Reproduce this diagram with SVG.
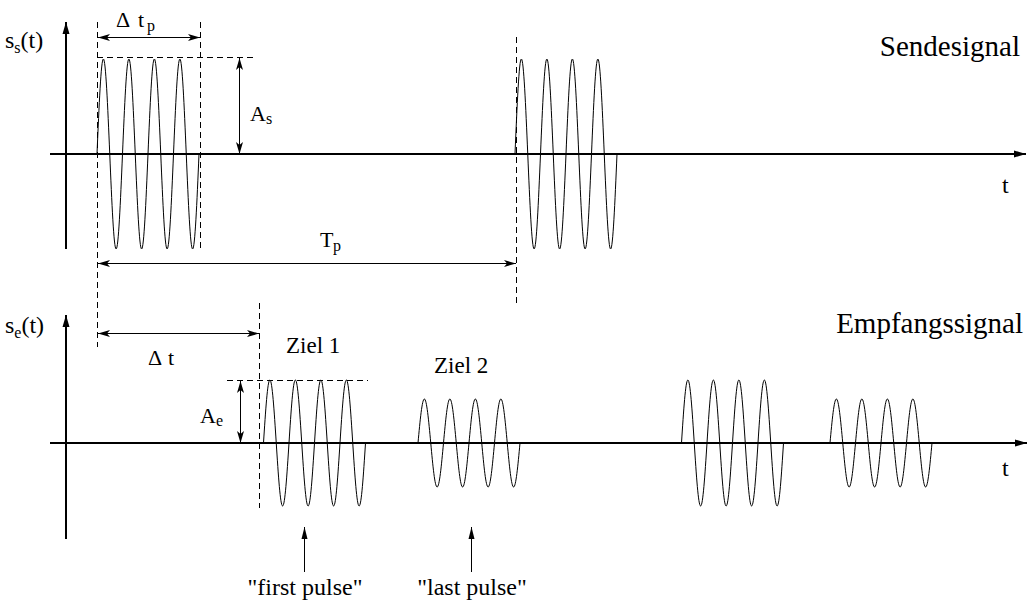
<svg xmlns="http://www.w3.org/2000/svg" xmlns:xlink="http://www.w3.org/1999/xlink" width="1029" height="608" viewBox="0 0 1029 608">
<style>
text{font-family:'Liberation Serif','Times New Roman',Times,'DejaVu Serif',serif;fill:#000}
.axis{stroke:#000;stroke-width:2;fill:none}
.wave{stroke:#000;stroke-width:1;fill:none}
.dash{stroke:#000;stroke-width:1;stroke-dasharray:6,4;fill:none}
.dim{stroke:#000;stroke-width:1;fill:none}
</style>
<defs>
<marker id="ax" markerUnits="userSpaceOnUse" markerWidth="14" markerHeight="10" refX="12" refY="5" orient="auto"><path d="M0,1.5 L12,5 L0,8.5 z" fill="#000"/></marker>
<marker id="dh" markerUnits="userSpaceOnUse" markerWidth="14" markerHeight="10" refX="12" refY="5" orient="auto-start-reverse"><path d="M0,1.5 L12,5 L0,8.5 L3,5 z" fill="#000"/></marker>
<marker id="ph" markerUnits="userSpaceOnUse" markerWidth="14" markerHeight="10" refX="12" refY="5" orient="auto"><path d="M0,2 L12,5 L0,8 z" fill="#000"/></marker>
<path id="p95" class="wave" d="M0,0 c2.079,-48.67 4.068,-95 6.375,-95 s4.296,46.33 6.375,95 s4.068,95 6.375,95 s4.296,-46.33 6.375,-95 s4.068,-95 6.375,-95 s4.296,46.33 6.375,95 s4.068,95 6.375,95 s4.296,-46.33 6.375,-95 s4.068,-95 6.375,-95 s4.296,46.33 6.375,95 s4.068,95 6.375,95 s4.296,-46.33 6.375,-95 s4.068,-95 6.375,-95 s4.296,46.33 6.375,95 s4.068,95 6.375,95 s4.296,-46.33 6.375,-95"/>
<path id="p63" class="wave" d="M0,0 c2.079,-32.27 4.068,-63 6.375,-63 s4.296,30.73 6.375,63 s4.068,63 6.375,63 s4.296,-30.73 6.375,-63 s4.068,-63 6.375,-63 s4.296,30.73 6.375,63 s4.068,63 6.375,63 s4.296,-30.73 6.375,-63 s4.068,-63 6.375,-63 s4.296,30.73 6.375,63 s4.068,63 6.375,63 s4.296,-30.73 6.375,-63 s4.068,-63 6.375,-63 s4.296,30.73 6.375,63 s4.068,63 6.375,63 s4.296,-30.73 6.375,-63"/>
<path id="p44" class="wave" d="M0,0 c2.079,-22.54 4.068,-44 6.375,-44 s4.296,21.46 6.375,44 s4.068,44 6.375,44 s4.296,-21.46 6.375,-44 s4.068,-44 6.375,-44 s4.296,21.46 6.375,44 s4.068,44 6.375,44 s4.296,-21.46 6.375,-44 s4.068,-44 6.375,-44 s4.296,21.46 6.375,44 s4.068,44 6.375,44 s4.296,-21.46 6.375,-44 s4.068,-44 6.375,-44 s4.296,21.46 6.375,44 s4.068,44 6.375,44 s4.296,-21.46 6.375,-44"/>
</defs>
<rect width="1029" height="608" fill="#fff"/>

<g id="sendesignal-axes">
<line class="axis" x1="66" y1="249" x2="66" y2="22" marker-end="url(#ax)"/>
<line class="axis" x1="50" y1="154" x2="1026" y2="154" marker-end="url(#ax)"/>
<text x="5" y="48" font-size="24" font-family="Liberation Serif, serif">s<tspan font-size="16" dy="5">s</tspan><tspan dy="-5">(t)</tspan></text>
<text x="1002" y="193" font-size="24" font-family="Liberation Serif, serif">t</text>
<text x="1020" y="56" font-size="29" text-anchor="end" font-family="Liberation Serif, serif">Sendesignal</text>
</g>

<g id="send-pulse-1"><use xlink:href="#p95" x="97" y="154"/></g>
<g id="send-pulse-2"><use xlink:href="#p95" x="515" y="154"/></g>

<g id="empfangssignal-axes">
<line class="axis" x1="66" y1="539" x2="66" y2="315" marker-end="url(#ax)"/>
<line class="axis" x1="50" y1="443" x2="1027" y2="443" marker-end="url(#ax)"/>
<text x="5" y="333" font-size="24" font-family="Liberation Serif, serif">s<tspan font-size="16" dy="5">e</tspan><tspan dy="-5">(t)</tspan></text>
<text x="1002" y="476" font-size="24" font-family="Liberation Serif, serif">t</text>
<text x="1023" y="333" font-size="29" text-anchor="end" font-family="Liberation Serif, serif">Empfangssignal</text>
</g>

<g id="ziel1-echo-1"><use xlink:href="#p63" x="263.5" y="443"/></g>
<g id="ziel2-echo-1"><use xlink:href="#p44" x="418" y="443"/></g>
<g id="ziel1-echo-2"><use xlink:href="#p63" x="681.5" y="443"/></g>
<g id="ziel2-echo-2"><use xlink:href="#p44" x="830" y="443"/></g>

<g id="dashed-guides">
<line class="dash" x1="97.5" y1="22" x2="97.5" y2="347"/>
<line class="dash" x1="200.5" y1="22" x2="200.5" y2="250"/>
<line class="dash" x1="97" y1="57.5" x2="256" y2="57.5"/>
<line class="dash" x1="516.5" y1="37" x2="516.5" y2="305"/>
<line class="dash" x1="259.5" y1="303" x2="259.5" y2="508"/>
<line class="dash" x1="227" y1="380.5" x2="368" y2="380.5"/>
</g>

<g id="connectors">
<line class="dim" x1="98" y1="37.5" x2="200" y2="37.5" marker-start="url(#dh)" marker-end="url(#dh)"/>
<line class="dim" x1="239.5" y1="58" x2="239.5" y2="154" marker-start="url(#dh)" marker-end="url(#dh)"/>
<line class="dim" x1="98" y1="263.5" x2="516" y2="263.5" marker-start="url(#dh)" marker-end="url(#dh)"/>
<line class="dim" x1="98" y1="333.5" x2="259" y2="333.5" marker-start="url(#dh)" marker-end="url(#dh)"/>
<line class="dim" x1="240.5" y1="381" x2="240.5" y2="443" marker-start="url(#dh)" marker-end="url(#dh)"/>
<line class="dim" x1="304.5" y1="572" x2="304.5" y2="527" marker-end="url(#ph)"/>
<line class="dim" x1="471.5" y1="572" x2="471.5" y2="527" marker-end="url(#ph)"/>
</g>

<g id="labels" font-family="Liberation Serif, serif">
<text y="27" font-size="22"><tspan x="116">Δ</tspan><tspan x="138">t</tspan><tspan x="147" dy="4" font-size="16">p</tspan></text>
<text x="250" y="121" font-size="22">A<tspan font-size="16" dy="3">s</tspan></text>
<text x="320" y="247" font-size="22">T<tspan x="333" font-size="16" dy="4">p</tspan></text>
<text y="365" font-size="22"><tspan x="148">Δ</tspan><tspan x="168">t</tspan></text>
<text x="200" y="423" font-size="22">A<tspan font-size="16" dy="3">e</tspan></text>
<text x="286" y="353" font-size="23">Ziel 1</text>
<text x="434" y="373" font-size="23">Ziel 2</text>
<text x="305" y="595" font-size="24" text-anchor="middle">"first pulse"</text>
<text x="472" y="595" font-size="24" text-anchor="middle">"last pulse"</text>
</g>
</svg>
